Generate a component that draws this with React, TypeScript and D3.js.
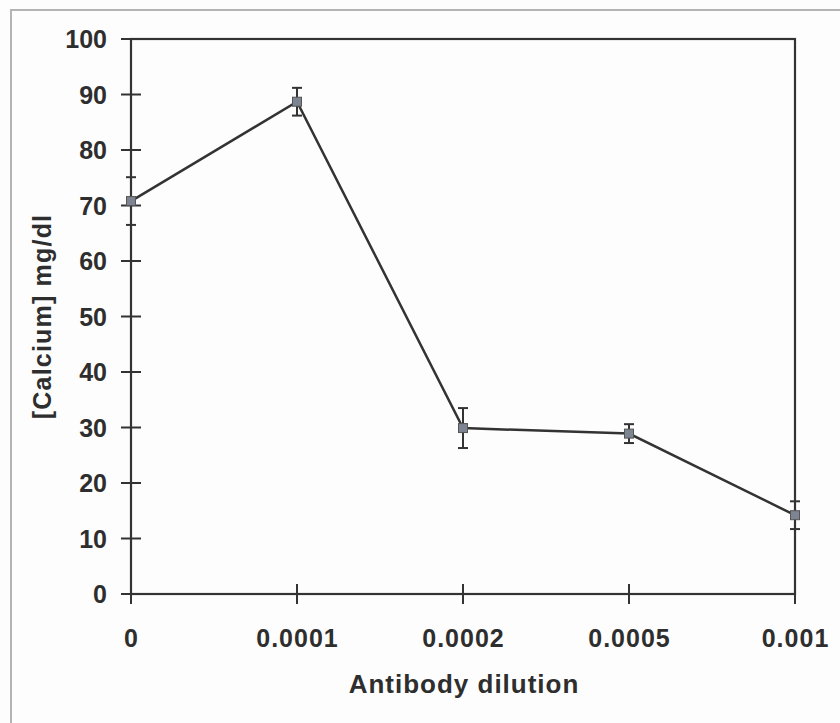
import React from "react";
import * as d3 from "d3";

const categories = ["0", "0.0001", "0.0002", "0.0005", "0.001"];
const means = [70.8, 88.7, 29.9, 28.9, 14.2];
const errors = [4.3, 2.5, 3.6, 1.7, 2.5];
const yTicks = [0, 10, 20, 30, 40, 50, 60, 70, 80, 90, 100];
const xTitle = "Antibody dilution";
const yTitle = "[Calcium] mg/dl";

const W = 840;
const H = 723;
const left = 131;
const right = 795;
const top = 39;
const bottom = 594;
const font = "Liberation Sans, Arial, sans-serif";
const textColor = "#2e2e2e";

export default function App() {
  const x = d3.scalePoint<string>().domain(categories).range([left, right]).padding(0);
  const y = d3.scaleLinear().domain([0, 100]).range([bottom, top]);
  const data = categories.map((c, i) => ({ c, m: means[i], e: errors[i] }));
  const line = d3
    .line<{ c: string; m: number }>()
    .x((d) => x(d.c) as number)
    .y((d) => y(d.m));

  return (
    <svg
      width={W}
      height={H}
      style={{ position: "absolute", left: 0, top: 0, background: "#fdfdfd" }}
    >
      {/* outer frame */}
      <path d={`M11,${H} L11,10 L${W},10`} fill="none" stroke="#b4b4b4" strokeWidth={2} />

      {/* plot box */}
      <rect x={left} y={top} width={right - left} height={bottom - top} fill="none" stroke="#333" strokeWidth={2.2} />

      {/* y ticks */}
      {yTicks.map((t) => (
        <g key={t}>
          <line x1={left - 10} x2={left + 10} y1={y(t)} y2={y(t)} stroke="#333" strokeWidth={2} />
          <text
            x={107}
            y={y(t)}
            textAnchor="end"
            dominantBaseline="central"
            fontFamily={font}
            fontWeight="bold"
            fontSize={25}
            fill={textColor}
          >
            {t}
          </text>
        </g>
      ))}

      {/* x ticks */}
      {categories.map((c) => (
        <g key={c}>
          <line x1={x(c)} x2={x(c)} y1={bottom - 10} y2={bottom + 10} stroke="#333" strokeWidth={2} />
          <text
            x={(x(c) as number) + 0.5}
            y={638}
            textAnchor="middle"
            dominantBaseline="central"
            fontFamily={font}
            fontWeight="bold"
            fontSize={25}
            letterSpacing={1}
            fill={textColor}
          >
            {c}
          </text>
        </g>
      ))}

      {/* axis titles */}
      <text
        x={464}
        y={684}
        textAnchor="middle"
        dominantBaseline="central"
        fontFamily={font}
        fontWeight="bold"
        fontSize={26}
        letterSpacing={1}
        fill={textColor}
      >
        {xTitle}
      </text>
      <text
        transform={`translate(42,${(top + bottom) / 2}) rotate(-90)`}
        textAnchor="middle"
        dominantBaseline="central"
        fontFamily={font}
        fontWeight="bold"
        fontSize={25}
        letterSpacing={1.2}
        fill={textColor}
      >
        {yTitle}
      </text>

      {/* line */}
      <path d={line(data) as string} fill="none" stroke="#333" strokeWidth={2.5} />

      {/* error bars */}
      {data.map((d) => {
        const cx = x(d.c) as number;
        return (
          <g key={d.c} stroke="#333" strokeWidth={2}>
            <line x1={cx} x2={cx} y1={y(d.m + d.e)} y2={y(d.m - d.e)} />
            <line x1={cx - 5} x2={cx + 5} y1={y(d.m + d.e)} y2={y(d.m + d.e)} />
            <line x1={cx - 5} x2={cx + 5} y1={y(d.m - d.e)} y2={y(d.m - d.e)} />
          </g>
        );
      })}

      {/* markers */}
      {data.map((d) => {
        const cx = x(d.c) as number;
        return (
          <rect
            key={d.c}
            x={cx - 4.5}
            y={y(d.m) - 4.5}
            width={9}
            height={9}
            fill="#7d8593"
            stroke="#555"
            strokeWidth={1}
          />
        );
      })}
    </svg>
  );
}
